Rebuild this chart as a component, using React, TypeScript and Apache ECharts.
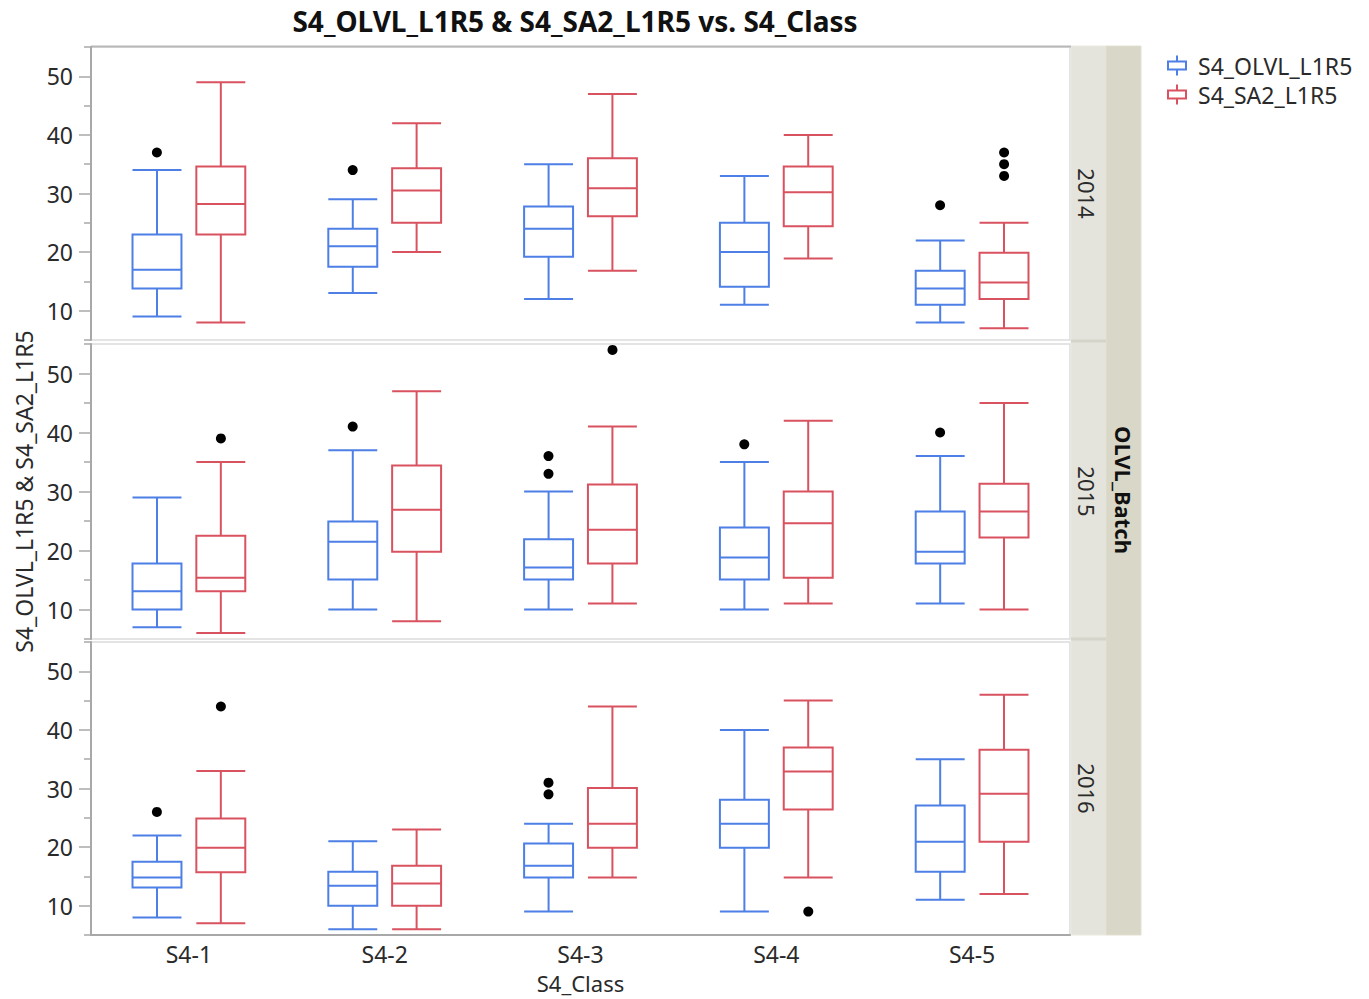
import { useEffect, useRef } from 'react';
import * as echarts from 'echarts';

const CATEGORIES = ['S4-1', 'S4-2', 'S4-3', 'S4-4', 'S4-5'];
const YEARS = ['2014', '2015', '2016'];
const SERIES_NAMES = ['S4_OLVL_L1R5', 'S4_SA2_L1R5'];
const Y_MAJOR_TICKS = [10, 20, 30, 40, 50];
const Y_MINOR_TICKS = [5, 15, 25, 35, 45, 55];
const Y_MIN = 5;
const Y_MAX = 55;

// [low whisker, Q1, median, Q3, high whisker] per class
const OLVL_2014 = [[9, 13.8, 17, 23, 34], [13, 17.5, 21, 24, 29], [12, 19.2, 24, 27.8, 35], [11, 14.1, 20, 25, 33], [8, 11, 13.8, 16.8, 22]];
const SA2_2014 = [[8, 23, 28.2, 34.6, 49], [20, 25, 30.5, 34.3, 42], [16.8, 26.1, 30.9, 36, 47], [18.9, 24.4, 30.2, 34.6, 40], [7, 12, 14.8, 19.9, 25]];
const OLVL_2015 = [[7, 10, 13.1, 17.8, 29], [10, 15.1, 21.5, 24.9, 37], [10, 15.1, 17.1, 21.9, 30], [10, 15.1, 18.8, 23.9, 35], [11, 17.8, 19.8, 26.6, 36]];
const SA2_2015 = [[6, 13.1, 15.4, 22.5, 35], [8, 19.8, 26.9, 34.4, 47], [11, 17.8, 23.5, 31.2, 41], [11, 15.4, 24.6, 30, 42], [10, 22.2, 26.6, 31.3, 45]];
const OLVL_2016 = [[8, 13.1, 14.8, 17.5, 22], [6, 10, 13.4, 15.8, 21], [9, 14.8, 16.8, 20.6, 24], [9, 19.9, 24, 28.1, 40], [11, 15.8, 20.9, 27.1, 35]];
const SA2_2016 = [[7, 15.7, 19.9, 24.9, 33], [6, 10, 13.8, 16.8, 23], [14.8, 19.9, 24, 30.1, 44], [14.8, 26.4, 32.9, 37, 45], [12, 20.9, 29.1, 36.6, 46]];

// outliers: [class, value]
const OLVL_OUT_2014 = [['S4-1', 37], ['S4-2', 34], ['S4-5', 28]];
const SA2_OUT_2014 = [['S4-5', 33], ['S4-5', 35], ['S4-5', 37]];
const OLVL_OUT_2015 = [['S4-2', 41], ['S4-3', 33], ['S4-3', 36], ['S4-4', 38], ['S4-5', 40]];
const SA2_OUT_2015 = [['S4-1', 39], ['S4-3', 54]];
const OLVL_OUT_2016 = [['S4-1', 26], ['S4-3', 29], ['S4-3', 31]];
const SA2_OUT_2016 = [['S4-1', 44], ['S4-4', 9]];

const PANEL_BOXES = [[OLVL_2014, SA2_2014], [OLVL_2015, SA2_2015], [OLVL_2016, SA2_2016]];
const PANEL_OUTLIERS = [[OLVL_OUT_2014, SA2_OUT_2014], [OLVL_OUT_2015, SA2_OUT_2015], [OLVL_OUT_2016, SA2_OUT_2016]];

const COLORS = ['#4D7FE6', '#D9525F'];
const TEXT = '#2A2A2A';
const AXIS = '#A8A8A8';
const FONT = 'Noto Sans';
const GRID_LEFT = 91;
const GRID_WIDTH = 979;
const GRID_TOPS = [47, 344, 642];
const GRID_HEIGHTS = [293, 295, 293];
const BOX_OFFSET = 0.163; // fraction of band
const BOX_WIDTH = 0.25;
const LEGEND_ICON = 'path://M10,0L10,6M1,6L19,6L19,14L1,14ZM10,14L10,20';

export default function App() {
  const ref = useRef<HTMLDivElement>(null);
  useEffect(() => {
    const chart = echarts.init(ref.current as HTMLDivElement, null, { renderer: 'svg' });

    const grids = GRID_TOPS.map((top, i) => ({
      left: GRID_LEFT, width: GRID_WIDTH, top, height: GRID_HEIGHTS[i],
      show: true, borderColor: '#DCDCDC', borderWidth: 1.5,
    }));

    const xAxes = GRID_TOPS.map((_, i) => ({
      type: 'category', gridIndex: i, data: CATEGORIES, boundaryGap: true,
      axisLine: { show: i === 2, lineStyle: { color: AXIS, width: 2 } },
      axisTick: { show: false },
      axisLabel: { show: i === 2, fontSize: 23, color: TEXT, margin: 7, fontFamily: FONT },
      splitLine: { show: false },
      name: i === 2 ? 'S4_Class' : '',
      nameLocation: 'middle', nameGap: 37,
      nameTextStyle: { fontSize: 22, color: TEXT, fontFamily: FONT },
    }));

    const yAxes: any[] = [];
    GRID_TOPS.forEach((_, i) => {
      yAxes.push({
        type: 'value', gridIndex: i, min: Y_MIN, max: Y_MAX, position: 'left',
        axisLine: { show: true, lineStyle: { color: AXIS, width: 2 } },
        axisTick: { show: true, customValues: Y_MAJOR_TICKS, length: 12, lineStyle: { color: AXIS, width: 1.5 } },
        axisLabel: { customValues: Y_MAJOR_TICKS, fontSize: 23, color: TEXT, margin: 18, fontFamily: FONT },
        splitLine: { show: false },
        name: i === 1 ? 'S4_OLVL_L1R5 & S4_SA2_L1R5' : '',
        nameLocation: 'middle', nameGap: 56,
        nameTextStyle: { fontSize: 23, color: TEXT, fontFamily: FONT },
      });
      yAxes.push({
        type: 'value', gridIndex: i, min: Y_MIN, max: Y_MAX, position: 'left',
        axisLine: { show: false },
        axisTick: { show: true, customValues: Y_MINOR_TICKS, length: 7, lineStyle: { color: AXIS, width: 1.5 } },
        axisLabel: { show: false },
        splitLine: { show: false },
      });
    });

    const series: any[] = [];
    PANEL_BOXES.forEach((pair, p) => {
      pair.forEach((boxes, s) => {
        const color = COLORS[s];
        const side = s === 0 ? -1 : 1;
        series.push({
          type: 'custom', name: SERIES_NAMES[s], xAxisIndex: p, yAxisIndex: p * 2,
          itemStyle: { color: 'rgba(0,0,0,0)', borderColor: color, borderWidth: 2 },
          encode: { x: 0, y: [1, 2, 3, 4, 5] },
          data: boxes.map((b, k) => [k, ...b]),
          renderItem: (params: any, api: any) => {
            const k = api.value(0);
            const band = api.size([1, 0])[0];
            const w = band * BOX_WIDTH;
            const lo = api.coord([k, api.value(1)]);
            const q1 = api.coord([k, api.value(2)]);
            const md = api.coord([k, api.value(3)]);
            const q3 = api.coord([k, api.value(4)]);
            const hi = api.coord([k, api.value(5)]);
            const cx = lo[0] + side * band * BOX_OFFSET;
            const st = { stroke: color, lineWidth: 2, fill: 'none' };
            const l = cx - w / 2, r = cx + w / 2;
            return {
              type: 'group',
              children: [
                { type: 'rect', shape: { x: l, y: q3[1], width: w, height: q1[1] - q3[1] }, style: st },
                { type: 'line', shape: { x1: l, y1: md[1], x2: r, y2: md[1] }, style: st },
                { type: 'line', shape: { x1: cx, y1: q3[1], x2: cx, y2: hi[1] }, style: st },
                { type: 'line', shape: { x1: cx, y1: q1[1], x2: cx, y2: lo[1] }, style: st },
                { type: 'line', shape: { x1: l, y1: hi[1], x2: r, y2: hi[1] }, style: st },
                { type: 'line', shape: { x1: l, y1: lo[1], x2: r, y2: lo[1] }, style: st },
              ],
            };
          },
        });
      });
      PANEL_OUTLIERS[p].forEach((pts, s) => {
        series.push({
          type: 'scatter', name: SERIES_NAMES[s] + ' outliers', xAxisIndex: p, yAxisIndex: p * 2,
          data: pts, symbol: 'circle', symbolSize: 10,
          symbolOffset: [s === 0 ? -32 : 32, 0],
          itemStyle: { color: '#000', opacity: 1 }, z: 5,
        });
      });
    });

    const stripTop = 46;
    const stripBottom = 935;
    const graphics: any[] = [
      { type: 'rect', shape: { x: 1071, y: stripTop, width: 35, height: stripBottom - stripTop }, style: { fill: '#E4E4DC', stroke: '#EAEAE0', lineWidth: 1 } },
      { type: 'rect', shape: { x: 1106, y: stripTop, width: 35, height: stripBottom - stripTop }, style: { fill: '#D9D7C7', stroke: '#E2E0D2', lineWidth: 1 } },
      { type: 'line', shape: { x1: 1071, y1: 341, x2: 1106, y2: 341 }, style: { stroke: '#D4D4CA', lineWidth: 3 } },
      { type: 'line', shape: { x1: 1071, y1: 639, x2: 1106, y2: 639 }, style: { stroke: '#D4D4CA', lineWidth: 3 } },
      { type: 'line', shape: { x1: 91, y1: 46.5, x2: 1071, y2: 46.5 }, style: { stroke: '#B8B8B8', lineWidth: 2 } },
      {
        type: 'text', x: 1124, y: 490, rotation: -Math.PI / 2,
        style: { text: 'OLVL_Batch', fontSize: 22, fontWeight: 'bold', fill: '#111', fontFamily: FONT, align: 'center', verticalAlign: 'middle' },
      },
    ];
    YEARS.forEach((yr, i) => {
      graphics.push({
        type: 'text', x: 1087, y: GRID_TOPS[i] + GRID_HEIGHTS[i] / 2, rotation: -Math.PI / 2,
        style: { text: yr, fontSize: 22, fill: TEXT, fontFamily: FONT, align: 'center', verticalAlign: 'middle' },
      });
    });

    chart.setOption({
      animation: false,
      backgroundColor: '#fff',
      textStyle: { fontFamily: FONT },
      title: {
        text: 'S4_OLVL_L1R5 & S4_SA2_L1R5 vs. S4_Class',
        left: 570, top: 2, textAlign: 'center',
        textStyle: { fontSize: 28, fontWeight: 'bold', color: '#111', fontFamily: FONT },
      },
      legend: {
        left: 1162, top: 49, orient: 'vertical', itemWidth: 20, itemHeight: 20, itemGap: 6,
        textStyle: { fontSize: 23, color: TEXT, fontFamily: FONT, padding: [0, 0, 0, 6] },
        data: SERIES_NAMES.map((n, s) => ({
          name: n, icon: LEGEND_ICON,
          itemStyle: { color: 'rgba(0,0,0,0)', borderColor: COLORS[s], borderWidth: 2 },
        })),
      },
      grid: grids,
      xAxis: xAxes,
      yAxis: yAxes,
      series,
      graphic: graphics,
    });
    return () => chart.dispose();
  }, []);
  return <div ref={ref} style={{ position: 'absolute', left: 0, top: 0, width: 1369, height: 999 }} />;
}
